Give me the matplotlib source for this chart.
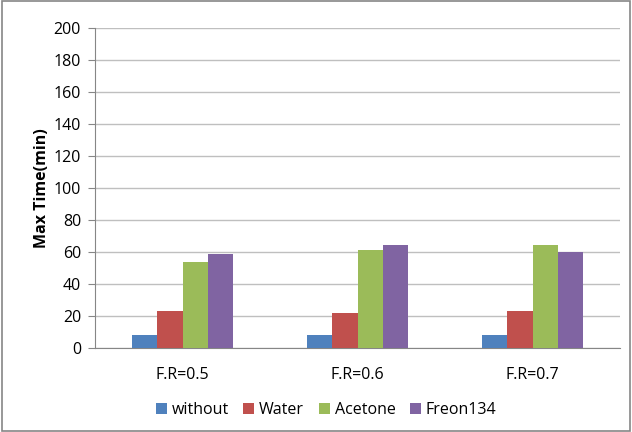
import numpy as np
import matplotlib.pyplot as plt
from matplotlib.patches import Rectangle

# données
categories = ["F.R=0.5", "F.R=0.6", "F.R=0.7"]
series_names = ["without", "Water", "Acetone", "Freon134"]
without = [8, 8, 8]
water = [23, 22, 23]
acetone = [54, 61.5, 64.5]
freon134 = [59, 64.5, 60]
colors = ["#4F81BD", "#C0504D", "#9BBB59", "#8064A2"]

plt.rcParams["font.family"] = ["Open Sans", "DejaVu Sans"]

fig = plt.figure(figsize=(6.32, 4.32), dpi=100)
ax = fig.add_axes([95 / 632, 1 - 348 / 432, 525 / 632, 320 / 432])

x = np.arange(len(categories))
width = 0.143
data = [without, water, acetone, freon134]
for i, (vals, name) in enumerate(zip(data, series_names)):
    ax.bar(x + (i - 1.5) * width, vals, width, color=colors[i], label=name, zorder=3)

ax.set_xlim(-0.5, 2.5)
ax.set_ylim(0, 200)
ax.set_yticks(range(0, 201, 20))
ax.set_xticks(x)
ax.set_xticklabels(categories)
ax.grid(axis="y", color="#BFBFBF", linewidth=1, zorder=0)
for s in ["top", "right"]:
    ax.spines[s].set_visible(False)
ax.spines["left"].set_color("#868686")
ax.spines["bottom"].set_color("#868686")
ax.tick_params(axis="y", length=5, color="#868686", labelsize=11.5, colors="#000000", pad=5)
ax.tick_params(axis="x", length=0, labelsize=11.5, pad=14)
ax.set_ylabel("Max Time(min)", fontsize=11.5, fontweight="bold", labelpad=3)

ax.legend(loc="upper center", bbox_to_anchor=(0.44, -0.125), ncol=4, frameon=False,
          fontsize=11.5, handlelength=0.7, handleheight=0.7, handletextpad=0.3,
          columnspacing=0.9)

fig.patches.append(Rectangle((0.003, 0.003), 0.994, 0.994, transform=fig.transFigure,
                             fill=False, edgecolor="#868686", linewidth=1.2))

fig.savefig("out.png", dpi=100)
